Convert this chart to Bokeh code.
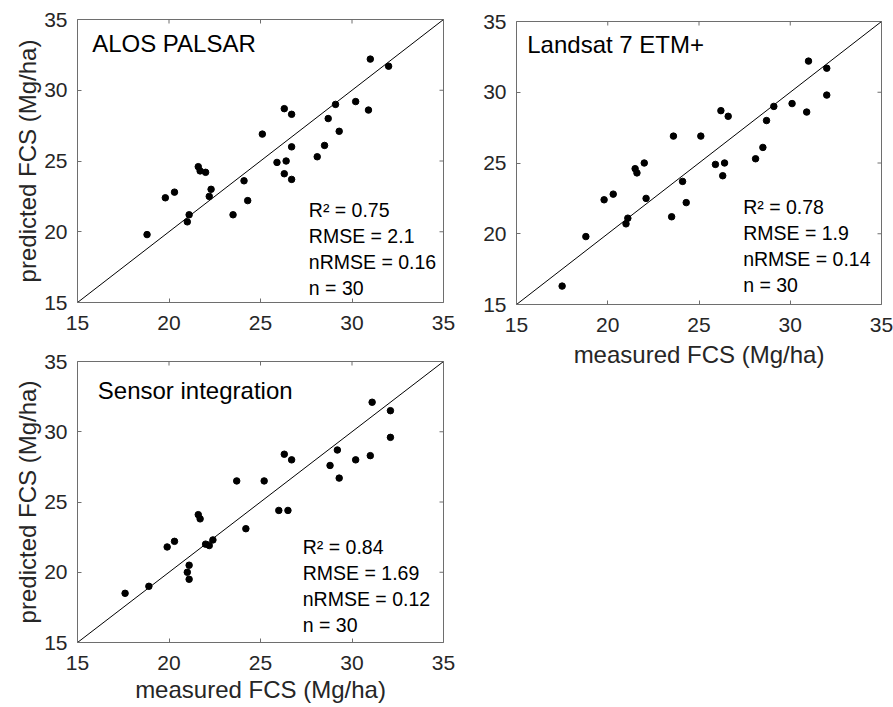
import math
from bokeh.plotting import figure
from bokeh.models import Range1d, FixedTicker, Label
from bokeh.layouts import row, column
from bokeh.embed import file_html
from bokeh.resources import INLINE

# ---------------- data ----------------
axis_limits = [15, 35]
ticks = [15, 20, 25, 30, 35]

alos_measured = [18.8, 19.8, 20.3, 21.0, 21.1, 21.6, 21.7, 22.0, 22.2, 22.3, 23.5, 24.1, 24.3, 25.1, 25.9,
                 26.3, 26.3, 26.4, 26.7, 26.7, 26.7, 28.1, 28.5, 28.7, 29.1, 29.3, 30.2, 30.9, 31.0, 32.0]
alos_predicted = [19.8, 22.4, 22.8, 20.7, 21.2, 24.6, 24.3, 24.2, 22.5, 23.0, 21.2, 23.6, 22.2, 26.9, 24.9,
                  28.7, 24.1, 25.0, 28.3, 26.0, 23.7, 25.3, 26.1, 28.0, 29.0, 27.1, 29.2, 28.6, 32.2, 31.7]

landsat_measured = [17.5, 18.8, 19.8, 20.3, 21.0, 21.1, 21.5, 21.6, 22.0, 22.1, 23.5, 23.6, 24.1, 24.3, 25.1,
                    25.9, 26.2, 26.3, 26.4, 26.6, 28.1, 28.5, 28.7, 29.1, 30.1, 30.9, 31.0, 32.0, 32.0]
landsat_predicted = [16.3, 19.8, 22.4, 22.8, 20.7, 21.1, 24.6, 24.3, 25.0, 22.5, 21.2, 26.9, 23.7, 22.2, 26.9,
                     24.9, 28.7, 24.1, 25.0, 28.3, 25.3, 26.1, 28.0, 29.0, 29.2, 28.6, 32.2, 31.7, 29.8]

fusion_measured = [17.6, 18.9, 19.9, 20.3, 21.0, 21.1, 21.1, 21.6, 21.7, 22.0, 22.2, 22.4, 23.7, 24.2,
                   25.2, 26.0, 26.3, 26.5, 26.7, 28.8, 29.2, 29.3, 30.2, 31.0, 31.1, 32.1, 32.1]
fusion_predicted = [18.5, 19.0, 21.8, 22.2, 20.0, 20.5, 19.5, 24.1, 23.8, 22.0, 21.9, 22.3, 26.5, 23.1,
                    26.5, 24.4, 28.4, 24.4, 28.0, 27.6, 28.7, 26.7, 28.0, 28.3, 32.1, 31.5, 29.6]

titles = ["ALOS PALSAR", "Landsat 7 ETM+", "Sensor integration"]
stats = [
    ["R\u00b2 = 0.75", "RMSE = 2.1", "nRMSE = 0.16", "n = 30"],
    ["R\u00b2 = 0.78", "RMSE = 1.9", "nRMSE = 0.14", "n = 30"],
    ["R\u00b2 = 0.84", "RMSE = 1.69", "nRMSE = 0.12", "n = 30"],
]
x_label = "measured FCS (Mg/ha)"
y_label = "predicted FCS (Mg/ha)"

FONT = "Liberation Sans"
FRAME = "#6e6e6e"
TXT = "#262626"


def style_axis(ax, label_standoff=10, axis_label_standoff=0):
    ax.ticker = FixedTicker(ticks=ticks)
    ax.axis_line_color = None
    ax.major_tick_in = 4
    ax.major_tick_out = 0
    ax.major_tick_line_color = FRAME
    ax.minor_tick_line_color = None
    ax.major_label_text_font = FONT
    ax.major_label_text_color = TXT
    ax.major_label_text_font_size = "21px"
    ax.major_label_standoff = label_standoff
    ax.axis_label_text_font = FONT
    ax.axis_label_text_font_style = "normal"
    ax.axis_label_text_color = TXT
    ax.axis_label_text_font_size = "24px"
    ax.axis_label_standoff = axis_label_standoff


def panel(xs, ys, title, lines, width, height, borders, title_pos, stat_pos,
          xlab=None, ylab=None, xlab_standoff=3):
    p = figure(width=width, height=height, output_backend="svg", toolbar_location=None,
               x_range=Range1d(*axis_limits), y_range=Range1d(*axis_limits),
               min_border_left=borders[0], min_border_right=borders[1],
               min_border_top=borders[2], min_border_bottom=borders[3])
    p.xgrid.grid_line_color = None
    p.ygrid.grid_line_color = None
    p.outline_line_color = FRAME
    p.outline_line_width = 1
    p.background_fill_color = "white"
    p.border_fill_color = "white"

    style_axis(p.xaxis[0], label_standoff=13, axis_label_standoff=xlab_standoff)
    style_axis(p.yaxis[0], label_standoff=10, axis_label_standoff=0)
    p.yaxis[0].major_label_orientation = "horizontal"
    if xlab:
        p.xaxis[0].axis_label = xlab
    if ylab:
        p.yaxis[0].axis_label = ylab

    # inward tick marks on the top and right edges of the box (clipped to the frame)
    n = len(ticks)
    p.scatter(ticks, [axis_limits[1]] * n, marker="dash", angle=math.pi / 2, size=8,
              line_color=FRAME, line_width=1)
    p.scatter([axis_limits[1]] * n, ticks, marker="dash", size=8,
              line_color=FRAME, line_width=1)

    p.line(axis_limits, axis_limits, line_color="black", line_width=1)
    p.scatter(xs, ys, size=6.5, fill_color="black", line_color="black")

    p.add_layout(Label(x=title_pos[0], y=title_pos[1], y_offset=7, text=title, text_font=FONT,
                       text_font_size="24px", text_color="black", text_baseline="alphabetic"))
    for i, t in enumerate(lines):
        p.add_layout(Label(x=stat_pos[0], y=stat_pos[1], y_offset=7 - 26 * i, text=t,
                           text_font=FONT, text_font_size="19.5px", text_color="black",
                           text_baseline="alphabetic"))
    return p


p1 = panel(alos_measured, alos_predicted, titles[0], stats[0], 470, 348,
           (76, 27, 19, 46), (15.8, 32.81), (27.64, 21.06), ylab=y_label)
p3 = panel(fusion_measured, fusion_predicted, titles[2], stats[2], 470, 358,
           (77, 27, 13, 64), (16.11, 32.46), (27.31, 21.29), xlab=x_label, ylab=y_label,
           xlab_standoff=3)
p2 = panel(landsat_measured, landsat_predicted, titles[1], stats[1], 423, 384,
           (46, 12, 21, 80), (15.59, 32.88), (27.42, 21.41), xlab=x_label, xlab_standoff=6)

layout = row(column(p1, p3), p2)

open("out.html", "w").write(file_html(layout, INLINE))
